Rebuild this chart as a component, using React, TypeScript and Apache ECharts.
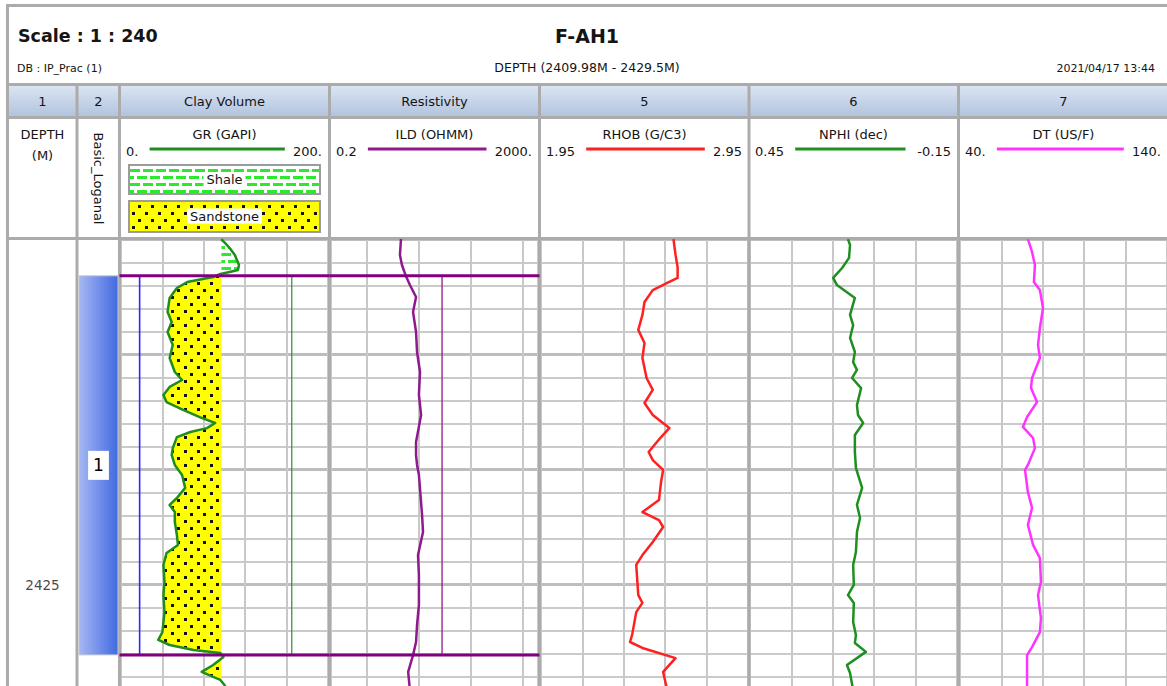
import { useEffect, useRef } from 'react';
import * as echarts from 'echarts';

const FONT = 'DejaVu Sans';

// ---- depth axis ----
const DEPTH_MIN = 2410;
const DEPTH_MAX = 2430;
const DEPTH_LABELS = [2425];

// ---- zones ----
const ZONE_TOPS = [2411.58];
const ZONE_BOTTOMS = [2428.06];
const ZONE_NAMES = ['1'];

// ---- parameters ----
const GR_CUTOFF = 97;
const GR_CLEAN = 18;
const GR_SHALE = 165;
const ILD_PARAM = 28;

// ---- GR (GAPI) ----
const GR_DEPTHS = [2409.98, 2410.37, 2410.67, 2411.11, 2411.33, 2411.41, 2411.5, 2411.63, 2411.85, 2412.11, 2412.54, 2413.15, 2413.59, 2414.02, 2414.59, 2415.15, 2415.76, 2416.11, 2416.41, 2416.76, 2417.07, 2417.41, 2417.72, 2417.98, 2418.2, 2418.37, 2418.59, 2419.07, 2419.37, 2419.8, 2420.24, 2420.8, 2421.24, 2421.54, 2421.85, 2422.28, 2422.85, 2423.28, 2423.63, 2424.15, 2424.89, 2425.46, 2426.2, 2427.07, 2427.41, 2427.63, 2427.85, 2427.98, 2428.15, 2428.5, 2428.8, 2429.02, 2429.15, 2429.37, 2429.6];
const GR_VALUES = [97, 105, 110, 114, 113, 105, 96, 89, 64, 54, 47, 45, 49, 45, 50, 47, 52, 59, 47, 41, 44, 60, 76, 91, 83, 67, 54, 50, 49, 52, 59, 62, 54, 47, 52, 52, 54, 55, 44, 41, 42, 41, 42, 40, 36, 47, 70, 96, 99, 89, 78, 89, 96, 100, 103];

// ---- ILD (OHMM) ----
const ILD_DEPTHS = [2409.98, 2410.67, 2411.11, 2411.59, 2411.98, 2412.5, 2413.15, 2414.02, 2414.89, 2415.76, 2416.76, 2417.63, 2418.8, 2419.37, 2419.8, 2420.24, 2421.98, 2422.72, 2423.72, 2424.59, 2425.89, 2426.76, 2427.5, 2428.07, 2428.8, 2429.6];
const ILD_VALUES = [4.5, 4.3, 4.7, 5.6, 6.7, 8.8, 7.7, 8.8, 9.2, 10.5, 10.0, 11.0, 8.8, 8.8, 9.2, 10.0, 11.5, 12.0, 9.6, 10.0, 10.0, 9.2, 8.8, 7.7, 6.2, 6.7];

// ---- RHOB (G/C3) ----
const RHOB_DEPTHS = [2409.98, 2410.67, 2411.2, 2411.67, 2411.89, 2412.2, 2412.72, 2413.28, 2413.93, 2414.5, 2415.15, 2416.02, 2416.54, 2417.11, 2417.63, 2418.2, 2418.59, 2419.24, 2419.59, 2420.02, 2420.54, 2421.33, 2421.85, 2422.2, 2422.5, 2423.15, 2423.72, 2424.15, 2425.46, 2425.8, 2426.2, 2427.2, 2427.5, 2427.76, 2428.2, 2428.8, 2429.6];
const RHOB_VALUES = [2.59, 2.6, 2.61, 2.61, 2.56, 2.49, 2.45, 2.44, 2.42, 2.45, 2.44, 2.46, 2.49, 2.45, 2.49, 2.57, 2.53, 2.47, 2.49, 2.54, 2.53, 2.52, 2.44, 2.52, 2.54, 2.49, 2.44, 2.41, 2.42, 2.44, 2.41, 2.39, 2.38, 2.44, 2.6, 2.54, 2.56];

// ---- NPHI (dec) ----
const NPHI_DEPTHS = [2409.98, 2410.24, 2410.8, 2411.24, 2411.67, 2411.98, 2412.54, 2413.28, 2413.72, 2414.28, 2414.89, 2415.33, 2415.67, 2416.02, 2416.46, 2417.2, 2417.63, 2417.98, 2418.5, 2419.24, 2419.93, 2420.8, 2421.54, 2422.11, 2422.72, 2423.59, 2424.15, 2425.02, 2425.46, 2425.8, 2426.63, 2427.2, 2427.54, 2427.93, 2428.5, 2428.85, 2429.6];
const NPHI_VALUES = [0.166, 0.16, 0.163, 0.183, 0.209, 0.198, 0.146, 0.16, 0.151, 0.16, 0.146, 0.151, 0.14, 0.154, 0.128, 0.14, 0.137, 0.122, 0.146, 0.146, 0.143, 0.125, 0.14, 0.131, 0.14, 0.143, 0.151, 0.149, 0.166, 0.149, 0.151, 0.143, 0.146, 0.114, 0.169, 0.16, 0.151];

// ---- DT (US/F) ----
const DT_DEPTHS = [2409.98, 2410.54, 2411.11, 2411.85, 2412.2, 2412.98, 2413.85, 2414.59, 2415.15, 2416.02, 2416.46, 2417.07, 2417.72, 2418.15, 2418.63, 2419.07, 2419.8, 2420.02, 2420.98, 2421.67, 2422.41, 2423.28, 2423.85, 2424.89, 2425.46, 2426.46, 2427.07, 2427.72, 2428.07, 2428.63, 2429.6];
const DT_VALUES = [72.8, 74.8, 76.2, 75.7, 78.6, 80.1, 78.6, 77.7, 78.6, 74.8, 74.3, 77.2, 72.4, 70.4, 75.3, 76.2, 72.8, 71.4, 72.8, 74.8, 72.8, 75.3, 78.6, 79.1, 77.7, 79.1, 78.6, 74.8, 72.4, 72.4, 72.4];

// ---- header texts ----
const TITLE_LEFT = 'Scale : 1 : 240';
const TITLE_CENTER = 'F-AH1';
const SUB_LEFT = 'DB : IP_Prac (1)';
const SUB_CENTER = 'DEPTH (2409.98M - 2429.5M)';
const SUB_RIGHT = '2021/04/17 13:44';
const TRACK_NUMBERS = ['1', '2', 'Clay Volume', 'Resistivity', '5', '6', '7'];
const CURVE_TITLES = ['GR (GAPI)', 'ILD (OHMM)', 'RHOB (G/C3)', 'NPHI (dec)', 'DT (US/F)'];
const CURVE_LEFT_LABELS = ['0.', '0.2', '1.95', '0.45', '40.'];
const CURVE_RIGHT_LABELS = ['200.', '2000.', '2.95', '-0.15', '140.'];
const CURVE_COLORS = ['#1f8c1f', '#8e1a8e', '#ff2020', '#1f8f1f', '#ff33ff'];
const LITHO_NAMES = ['Shale', 'Sandstone'];

// ---- layout (pixels) ----
const TRACK_LEFT = [9, 79, 121, 331, 541, 750, 960];
const TRACK_WIDTH = [67, 39, 207, 207, 207, 207, 207];
const SEPARATORS = [77, 119.5, 329.5, 539.5, 749, 958.5];
const GRID_TOP = 239.5;
const PX_PER_M = 23;

function buildFill(vals: number[], depths: number[], cutoff: number, mode: 'min' | 'max') {
  const pts: number[][] = [];
  for (let i = 0; i < vals.length; i++) {
    pts.push([vals[i], depths[i]]);
    if (i < vals.length - 1) {
      const a = vals[i] - cutoff;
      const b = vals[i + 1] - cutoff;
      if (a * b < 0) {
        const t = a / (a - b);
        pts.push([cutoff, depths[i] + t * (depths[i + 1] - depths[i])]);
      }
    }
  }
  const clamp = mode === 'min' ? (v: number) => Math.min(v, cutoff) : (v: number) => Math.max(v, cutoff);
  return [[cutoff, depths[0]], ...pts.map(([v, d]) => [clamp(v), d]), [cutoff, depths[depths.length - 1]]];
}

export default function App() {
  const ref = useRef<HTMLDivElement>(null);

  useEffect(() => {
    if (!ref.current) return;
    const chart = echarts.init(ref.current, null, { renderer: 'svg' });

    // patterns
    const sandCanvas = document.createElement('canvas');
    sandCanvas.width = 13;
    sandCanvas.height = 14;
    const sc = sandCanvas.getContext('2d')!;
    sc.fillStyle = '#ffff00';
    sc.fillRect(0, 0, 13, 14);
    sc.fillStyle = '#111111';
    sc.fillRect(2, 2, 3, 3);
    sc.fillRect(8, 9, 3, 3);
    const shaleCanvas = document.createElement('canvas');
    shaleCanvas.width = 13;
    shaleCanvas.height = 14;
    const hc = shaleCanvas.getContext('2d')!;
    hc.fillStyle = '#ffffff';
    hc.fillRect(0, 0, 13, 14);
    hc.fillStyle = '#2de82d';
    hc.fillRect(0, 1, 10, 3);
    hc.fillRect(7, 8, 6, 3);
    hc.fillRect(0, 8, 4, 3);
    const sandPattern: any = { image: sandCanvas, repeat: 'repeat', imageWidth: 13, imageHeight: 14 };
    const shalePattern: any = { image: shaleCanvas, repeat: 'repeat', imageWidth: 13, imageHeight: 14 };

    const gridH = (DEPTH_MAX - DEPTH_MIN) * PX_PER_M;
    const grids = TRACK_LEFT.map((l, i) => ({ left: l, top: GRID_TOP, width: TRACK_WIDTH[i], height: gridH, containLabel: false }));

    const hidden = { axisLine: { show: false }, axisTick: { show: false }, axisLabel: { show: false } };
    const vSplit = { show: true, lineStyle: { color: '#c8c8c8', width: 2 } };

    const xAxes: any[] = [
      { gridIndex: 0, type: 'value', min: 0, max: 1, show: false },
      { gridIndex: 1, type: 'value', min: 0, max: 1, show: false },
      { gridIndex: 2, type: 'value', min: 0, max: 200, ...hidden, splitLine: { show: false } },
      { gridIndex: 2, type: 'value', min: 0, max: 5, interval: 1, ...hidden, splitLine: vSplit },
      { gridIndex: 3, type: 'log', logBase: 10, min: 0.2, max: 2000, ...hidden, splitLine: vSplit },
      { gridIndex: 4, type: 'value', min: 1.95, max: 2.95, ...hidden, splitLine: { show: false } },
      { gridIndex: 4, type: 'value', min: 0, max: 5, interval: 1, ...hidden, splitLine: vSplit },
      { gridIndex: 5, type: 'value', min: -0.15, max: 0.45, inverse: true, ...hidden, splitLine: { show: false } },
      { gridIndex: 5, type: 'value', min: 0, max: 5, interval: 1, ...hidden, splitLine: vSplit },
      { gridIndex: 6, type: 'value', min: 40, max: 140, ...hidden, splitLine: { show: false } },
      { gridIndex: 6, type: 'value', min: 0, max: 5, interval: 1, ...hidden, splitLine: vSplit },
    ];

    const yAxes: any[] = TRACK_LEFT.map((_, i) => ({
      gridIndex: i,
      type: 'value',
      inverse: true,
      min: DEPTH_MIN,
      max: DEPTH_MAX,
      interval: 5,
      ...hidden,
      splitLine: { show: i >= 2, lineStyle: { color: '#bdbdbd', width: 3 } },
      minorTick: { show: false, splitNumber: 5 },
      minorSplitLine: { show: i >= 2, lineStyle: { color: '#cacaca', width: 2 } },
    }));

    const curve = (xIdx: number, yIdx: number, vals: number[], depths: number[], color: string) => ({
      type: 'line',
      xAxisIndex: xIdx,
      yAxisIndex: yIdx,
      data: depths.map((d, i) => [vals[i], d]),
      showSymbol: false,
      symbol: 'none',
      silent: true,
      z: 4,
      lineStyle: { color, width: 2.5, join: 'round' },
    });

    const segment = (xIdx: number, yIdx: number, pts: number[][], color: string, width: number, z = 3) => ({
      type: 'line',
      xAxisIndex: xIdx,
      yAxisIndex: yIdx,
      data: pts,
      showSymbol: false,
      symbol: 'none',
      silent: true,
      clip: false,
      z,
      lineStyle: { color, width, cap: 'square' },
    });

    const sandPoly = buildFill(GR_VALUES, GR_DEPTHS, GR_CUTOFF, 'min');
    const shalePoly = buildFill(GR_VALUES, GR_DEPTHS, GR_CUTOFF, 'max');

    const series: any[] = [
      {
        type: 'scatter',
        xAxisIndex: 0,
        yAxisIndex: 0,
        data: DEPTH_LABELS.map((d) => [0.5, d]),
        symbolSize: 1,
        itemStyle: { color: 'rgba(0,0,0,0)' },
        silent: true,
        label: {
          show: true,
          position: 'inside',
          formatter: (p: any) => String(p.value[1]),
          fontSize: 13.5,
          fontFamily: FONT,
          color: '#141414',
        },
      },
      {
        type: 'custom',
        xAxisIndex: 1,
        yAxisIndex: 1,
        silent: true,
        data: ZONE_TOPS.map((t, i) => [0, t, 1, ZONE_BOTTOMS[i]]),
        renderItem: (params: any, api: any) => {
          const p0 = api.coord([0, api.value(1)]);
          const p1 = api.coord([1, api.value(3)]);
          return {
            type: 'group',
            children: [
              {
                type: 'rect',
                shape: { x: p0[0], y: p0[1], width: p1[0] - p0[0], height: p1[1] - p0[1] },
                style: {
                  fill: new echarts.graphic.LinearGradient(0, 0, 1, 0, [
                    { offset: 0, color: '#a6b8f3' },
                    { offset: 1, color: '#4169e1' },
                  ]),
                  stroke: '#c4c8d2',
                  lineWidth: 1,
                },
              },
              {
                type: 'text',
                x: (p0[0] + p1[0]) / 2,
                y: (p0[1] + p1[1]) / 2,
                style: {
                  text: ZONE_NAMES[params.dataIndex],
                  fontSize: 17,
                  fontFamily: FONT,
                  fill: '#000',
                  align: 'center',
                  verticalAlign: 'middle',
                  textAlign: 'center',
                  textVerticalAlign: 'middle',
                  backgroundColor: '#ffffff',
                  padding: [6, 5, 6, 5],
                },
              },
            ],
          };
        },
      },
      {
        type: 'custom',
        xAxisIndex: 2,
        yAxisIndex: 2,
        silent: true,
        clip: true,
        z: 2,
        data: [[GR_CUTOFF, DEPTH_MIN]],
        renderItem: (params: any, api: any) => {
          if (params.dataIndex !== 0) return null;
          const toPx = (p: number[]) => api.coord(p);
          return {
            type: 'group',
            children: [
              { type: 'polygon', shape: { points: sandPoly.map(toPx) }, style: { fill: sandPattern, stroke: 'none' } },
              { type: 'polygon', shape: { points: shalePoly.map(toPx) }, style: { fill: shalePattern, stroke: 'none' } },
            ],
          };
        },
      },
      ...ZONE_TOPS.map((t, i) => segment(2, 2, [[GR_CLEAN, t], [GR_CLEAN, ZONE_BOTTOMS[i]]], '#2a2aff', 1.6)),
      ...ZONE_TOPS.map((t, i) => segment(2, 2, [[GR_SHALE, t], [GR_SHALE, ZONE_BOTTOMS[i]]], '#2e8b2e', 1.2)),
      ...ZONE_TOPS.map((t, i) => segment(4, 3, [[ILD_PARAM, t], [ILD_PARAM, ZONE_BOTTOMS[i]]], '#8e1a8e', 1.3)),
      curve(2, 2, GR_VALUES, GR_DEPTHS, CURVE_COLORS[0]),
      curve(4, 3, ILD_VALUES, ILD_DEPTHS, CURVE_COLORS[1]),
      curve(5, 4, RHOB_VALUES, RHOB_DEPTHS, CURVE_COLORS[2]),
      curve(7, 5, NPHI_VALUES, NPHI_DEPTHS, CURVE_COLORS[3]),
      curve(9, 6, DT_VALUES, DT_DEPTHS, CURVE_COLORS[4]),
      ...[...ZONE_TOPS, ...ZONE_BOTTOMS].map((d) => segment(2, 2, [[0, d], [200, d]], '#800080', 3, 5)),
      ...[...ZONE_TOPS, ...ZONE_BOTTOMS].map((d) => segment(4, 3, [[0.2, d], [2000, d]], '#800080', 3, 5)),
    ];

    // ---- header graphics ----
    const G = '#ababab';
    const rect = (x: number, y: number, w: number, h: number, fill: any, z = 1, extra: any = {}) => ({
      type: 'rect',
      shape: { x, y, width: w, height: h },
      style: { fill, ...extra },
      z,
      silent: true,
    });
    const text = (t: string, x: number, y: number, opts: any = {}) => ({
      type: 'text',
      x,
      y,
      z: 6,
      silent: true,
      rotation: opts.rotation || 0,
      style: {
        text: t,
        fill: '#141414',
        fontSize: opts.size || 13,
        fontWeight: opts.bold ? 'bold' : 'normal',
        fontFamily: FONT,
        align: opts.align || 'center',
        textAlign: opts.align || 'center',
        verticalAlign: 'middle',
        textVerticalAlign: 'middle',
        backgroundColor: opts.bg,
        padding: opts.padding,
      },
    });

    const bandGrad = new echarts.graphic.LinearGradient(0, 0, 0, 1, [
      { offset: 0, color: '#dbe4f2' },
      { offset: 1, color: '#b2c4de' },
    ]);

    const graphics: any[] = [
      rect(6, 4, 1161, 3, G),
      rect(6, 4, 3, 682, G),
      rect(9, 86, 1158, 30, bandGrad),
      rect(6, 83, 1161, 3, G),
      rect(6, 116, 1161, 3, G),
      rect(6, 237, 1161, 3, G),
      ...SEPARATORS.map((x) => rect(x - 1.5, 83, 3, 603, G)),
      text(TITLE_LEFT, 18, 36, { align: 'left', size: 17.5, bold: true }),
      text(TITLE_CENTER, 587, 36, { size: 19, bold: true }),
      text(SUB_LEFT, 17, 68, { align: 'left', size: 11 }),
      text(SUB_CENTER, 587, 67, { size: 12.5 }),
      text(SUB_RIGHT, 1155, 68, { align: 'right', size: 11 }),
    ];
    const colCenters = TRACK_LEFT.map((l, i) => l + TRACK_WIDTH[i] / 2);
    TRACK_NUMBERS.forEach((t, i) => graphics.push(text(t, colCenters[i], 101)));
    graphics.push(text('DEPTH', colCenters[0], 134));
    graphics.push(text('(M)', colCenters[0], 155));
    graphics.push(text('Basic_Loganal', colCenters[1], 178.5, { rotation: -Math.PI / 2 }));
    CURVE_TITLES.forEach((t, k) => {
      const i = k + 2;
      const l = TRACK_LEFT[i];
      const w = TRACK_WIDTH[i];
      graphics.push(text(t, colCenters[i], 134));
      graphics.push(text(CURVE_LEFT_LABELS[k], l + 5, 151, { align: 'left' }));
      graphics.push(text(CURVE_RIGHT_LABELS[k], l + w - 6, 151, { align: 'right' }));
      const lw = CURVE_LEFT_LABELS[k].length * 8.3 + 12;
      const rw = CURVE_RIGHT_LABELS[k].length * 8.3 + 10;
      graphics.push(rect(l + lw, 147.5, w - lw - rw, 3, CURVE_COLORS[k], 5));
    });
    // lithology legend boxes
    graphics.push(rect(129, 165, 191, 29, shalePattern, 5, { stroke: '#9c9c9c', lineWidth: 2 }));
    graphics.push(rect(129, 201, 191, 31, sandPattern, 5, { stroke: '#9c9c9c', lineWidth: 2 }));
    graphics.push(text(LITHO_NAMES[0], colCenters[2], 179.5, { bg: '#ffffff', padding: [1, 3, 1, 3] }));
    graphics.push(text(LITHO_NAMES[1], colCenters[2], 216, { bg: '#ffffff', padding: [1, 3, 1, 3] }));

    chart.setOption({
      animation: false,
      backgroundColor: '#ffffff',
      textStyle: { fontFamily: FONT },
      grid: grids,
      xAxis: xAxes,
      yAxis: yAxes,
      series,
      graphic: { elements: graphics },
    });

    return () => chart.dispose();
  }, []);

  return <div ref={ref} style={{ position: 'fixed', left: 0, top: 0, width: 1167, height: 702 }} />;
}
